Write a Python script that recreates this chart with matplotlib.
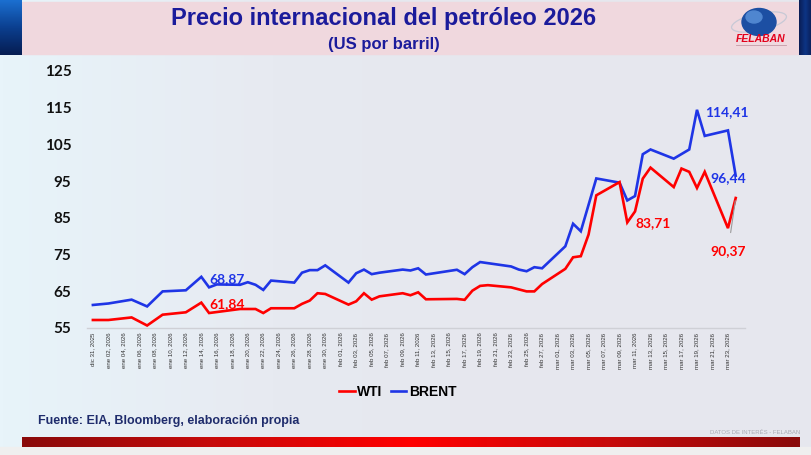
import matplotlib
matplotlib.use("Agg")
import matplotlib.pyplot as plt
import numpy as np
import pandas as pd
import matplotlib.dates as mdates
from matplotlib.patches import Rectangle, Ellipse
from matplotlib.colors import LinearSegmentedColormap

# ---------------- data ----------------
wti_dates = ["2025-12-31", "2026-01-02", "2026-01-05", "2026-01-07", "2026-01-09",
             "2026-01-12", "2026-01-14", "2026-01-15", "2026-01-19", "2026-01-21",
             "2026-01-22", "2026-01-23", "2026-01-26", "2026-01-27", "2026-01-28",
             "2026-01-29", "2026-01-30", "2026-02-02", "2026-02-03", "2026-02-04",
             "2026-02-05", "2026-02-06", "2026-02-09", "2026-02-10", "2026-02-11",
             "2026-02-12", "2026-02-16", "2026-02-17", "2026-02-18", "2026-02-19",
             "2026-02-20", "2026-02-23", "2026-02-25", "2026-02-26", "2026-02-27",
             "2026-03-02", "2026-03-03", "2026-03-04", "2026-03-05", "2026-03-06",
             "2026-03-09", "2026-03-10", "2026-03-11", "2026-03-12", "2026-03-13",
             "2026-03-16", "2026-03-17", "2026-03-18", "2026-03-19", "2026-03-20",
             "2026-03-23", "2026-03-24"]
wti = [57.1, 57.1, 57.8, 55.6, 58.55,
       59.2, 61.84, 59.0, 60.1, 60.1,
       59.0, 60.3, 60.3, 61.5, 62.4,
       64.4, 64.2, 61.3, 62.2, 64.4,
       62.65, 63.55, 64.4, 63.85, 64.65,
       62.75, 62.85, 62.6, 65.1, 66.4,
       66.6, 66.0, 64.9, 64.9, 66.9,
       71.05, 74.2, 74.5, 80.4, 91.1,
       94.7, 83.71, 86.7, 95.65, 98.65,
       93.35, 98.4, 97.5, 93.1, 97.5,
       82.15, 90.37]

brent_dates = ["2025-12-31", "2026-01-02", "2026-01-05", "2026-01-07", "2026-01-09",
               "2026-01-12", "2026-01-14", "2026-01-15", "2026-01-16", "2026-01-19",
               "2026-01-20", "2026-01-21", "2026-01-22", "2026-01-23", "2026-01-26",
               "2026-01-27", "2026-01-28", "2026-01-29", "2026-01-30", "2026-02-02",
               "2026-02-03", "2026-02-04", "2026-02-05", "2026-02-06", "2026-02-09",
               "2026-02-10", "2026-02-11", "2026-02-12", "2026-02-16", "2026-02-17",
               "2026-02-18", "2026-02-19", "2026-02-23", "2026-02-24", "2026-02-25",
               "2026-02-26", "2026-02-27", "2026-03-02", "2026-03-03", "2026-03-04",
               "2026-03-06", "2026-03-09", "2026-03-10", "2026-03-11", "2026-03-12",
               "2026-03-13", "2026-03-16", "2026-03-18", "2026-03-19", "2026-03-20",
               "2026-03-23", "2026-03-24"]
brent = [61.2, 61.6, 62.65, 60.8, 64.9,
         65.2, 68.87, 66.0, 66.8, 66.7,
         67.4, 66.7, 65.3, 67.85, 67.3,
         70.0, 70.7, 70.7, 72.0, 67.3,
         69.85, 70.85, 69.6, 70.0, 70.85,
         70.6, 71.2, 69.5, 70.8, 69.6,
         71.5, 72.9, 71.7, 70.85, 70.4,
         71.5, 71.2, 77.2, 83.35, 81.3,
         95.7, 94.55, 89.7, 90.9, 102.3,
         103.6, 101.1, 103.6, 114.41, 107.3,
         108.8, 96.44]

y_ticks = [55, 65, 75, 85, 95, 105, 115, 125]
tick_dates = pd.date_range("2025-12-31", "2026-03-23", freq="2D")
month_es = ["ene", "feb", "mar", "abr", "may", "jun", "jul", "ago", "sep", "oct", "nov", "dic"]
x_tick_labels = [f"{month_es[d.month - 1]} {d.day:02d}, {d.year}" for d in tick_dates]

# labelled points
labels_wti = [("2026-01-14", "61,84"), ("2026-03-10", "83,71"), ("2026-03-24", "90,37")]
labels_brent = [("2026-01-14", "68,87"), ("2026-03-19", "114,41"), ("2026-03-24", "96,44")]

# ---------------- figure ----------------
W, H = 812, 455
fig = plt.figure(figsize=(W / 100, H / 100), dpi=100)

bg = fig.add_axes([0, 0, 1, 1])
bg.set_xlim(0, W)
bg.set_ylim(H, 0)
bg.axis("off")

grad = np.linspace(0, 1, 256).reshape(1, -1)
cmap_bg = LinearSegmentedColormap.from_list("bg", ["#e8f4fa", "#e7eaf1", "#e6e7ee", "#e6e7ee"])
bg.imshow(grad, extent=[0, W, H, 0], cmap=cmap_bg, aspect="auto", zorder=0)

# header
bg.add_patch(Rectangle((22, 2), 777, 52, color="#f0d8de", zorder=1))
vgrad = np.linspace(0, 1, 64).reshape(-1, 1)
cmap_left = LinearSegmentedColormap.from_list("l", ["#1b6fd0", "#0b3f8f", "#061d52"])
bg.imshow(vgrad, extent=[0, 22, 55, 0], cmap=cmap_left, aspect="auto", zorder=2)
cmap_right = LinearSegmentedColormap.from_list("r", ["#0a1d55", "#0d3585", "#0a1d55"])
bg.imshow(grad, extent=[799, W, 55, 0], cmap=cmap_right, aspect="auto", zorder=2)

bg.text(384, 18, "Precio internacional del petróleo 2026", ha="center", va="center",
        fontsize=17, fontweight="bold", color="#1b1b9b", family="Liberation Sans", zorder=3)
bg.text(384, 44, "(US por barril)", ha="center", va="center",
        fontsize=12, fontweight="bold", color="#1b1b9b", family="Liberation Sans", zorder=3)

# logo
bg.add_patch(Ellipse((759, 22), 56, 17, angle=-12, fill=False, ec="#c7c9d6", lw=0.9, zorder=3))
bg.add_patch(Ellipse((759, 22), 34, 27, color="#1c4fa3", zorder=4))
bg.add_patch(Ellipse((754, 17), 16, 12, color="#4f86d0", zorder=4))
bg.text(761, 39, "FELABAN", ha="center", va="center", fontsize=7.5, fontweight="bold",
        fontstyle="italic", color="#e3001b", family="Liberation Sans", zorder=5)
bg.plot([736, 786], [45, 45], color="#c49aa6", lw=0.6, zorder=5)

# bottom
bg.add_patch(Rectangle((0, 447), W, 8, color="#efefef", zorder=1))
cmap_bar = LinearSegmentedColormap.from_list("bar", ["#8a0b0b", "#c80a0a", "#ff0000", "#c80a0a", "#8a0b0b"])
bg.imshow(grad, extent=[22, 800, 447, 437], cmap=cmap_bar, aspect="auto", zorder=2)
bg.text(38, 421, "Fuente: EIA, Bloomberg, elaboración propia", ha="left", va="center",
        fontsize=9, fontweight="bold", color="#1f2c6c", family="Liberation Sans", zorder=3)
bg.text(800, 432.5, "DATOS DE INTERÉS - FELABAN", ha="right", va="center",
        fontsize=4.3, color="#a9abb5", family="Liberation Sans", zorder=3)

# ---------------- chart ----------------
left, right, top, bottom = 86.7, 745, 71, 327.7
ax = fig.add_axes([left / W, (H - bottom) / H, (right - left) / W, (bottom - top) / H])
ax.patch.set_alpha(0)

wti_x = pd.to_datetime(wti_dates)
brent_x = pd.to_datetime(brent_dates)
red = "#ff0000"
blue = "#1f35e6"
l_b, = ax.plot(brent_x, brent, color=blue, lw=1.9, solid_joinstyle="miter", zorder=3)
l_w, = ax.plot(wti_x, wti, color=red, lw=1.9, solid_joinstyle="miter", zorder=4)

x0 = mdates.date2num(pd.Timestamp("2025-12-31"))
ax.set_xlim(x0 - 0.8, x0 + 84.2)
ax.set_ylim(55, 125)
ax.set_yticks(y_ticks)
ax.set_yticklabels([str(v) for v in y_ticks], fontsize=11, fontweight="bold",
                   family=["Lato", "Liberation Sans"], color="#111111")
ax.set_xticks(tick_dates)
ax.set_xticklabels(x_tick_labels, rotation=90, fontsize=4.4, color="#333333",
                   family="Liberation Sans", ha="center", va="top")
ax.tick_params(axis="y", length=0, pad=11)
ax.tick_params(axis="x", length=0, pad=3.5)
for s in ["top", "right", "left"]:
    ax.spines[s].set_visible(False)
ax.spines["bottom"].set_color("#cfd0d6")
ax.spines["bottom"].set_linewidth(1)

# data labels
lab_kw = dict(textcoords="offset pixels", fontsize=10, fontweight="bold",
              family=["Lato", "Liberation Sans"], va="center", zorder=6)
ax.annotate(labels_brent[0][1], xy=(pd.Timestamp(labels_brent[0][0]), brent[6]), xytext=(8, -2),
            color=blue, ha="left", **lab_kw)
ax.annotate(labels_wti[0][1], xy=(pd.Timestamp(labels_wti[0][0]), wti[6]), xytext=(8, -1),
            color=red, ha="left", **lab_kw)
ax.annotate(labels_wti[1][1], xy=(pd.Timestamp(labels_wti[1][0]), wti[41]), xytext=(8, -1),
            color=red, ha="left", **lab_kw)
ax.annotate(labels_brent[1][1], xy=(pd.Timestamp(labels_brent[1][0]), brent[48]), xytext=(8, -2),
            color=blue, ha="left", **lab_kw)
ax.annotate(labels_brent[2][1], xy=(pd.Timestamp(labels_brent[2][0]), brent[51]), xytext=(10, -2),
            color=blue, ha="right", **lab_kw)
ax.annotate(labels_wti[2][1], xy=(pd.Timestamp(labels_wti[2][0]), wti[51]), xytext=(10, -53),
            color=red, ha="right",
            arrowprops=dict(arrowstyle="-", color="#9a9a9a", lw=0.8, shrinkA=7, shrinkB=2),
            **lab_kw)

fig.legend([l_w, l_b], ["WTI", "BRENT"], loc="center",
           bbox_to_anchor=(398 / W, 1 - 392 / H), ncol=2, frameon=False,
           prop=dict(weight="bold", size=10, family="Liberation Sans"),
           handlelength=1.1, handletextpad=0.2, columnspacing=0.6)

fig.savefig("out.png", dpi=100)
